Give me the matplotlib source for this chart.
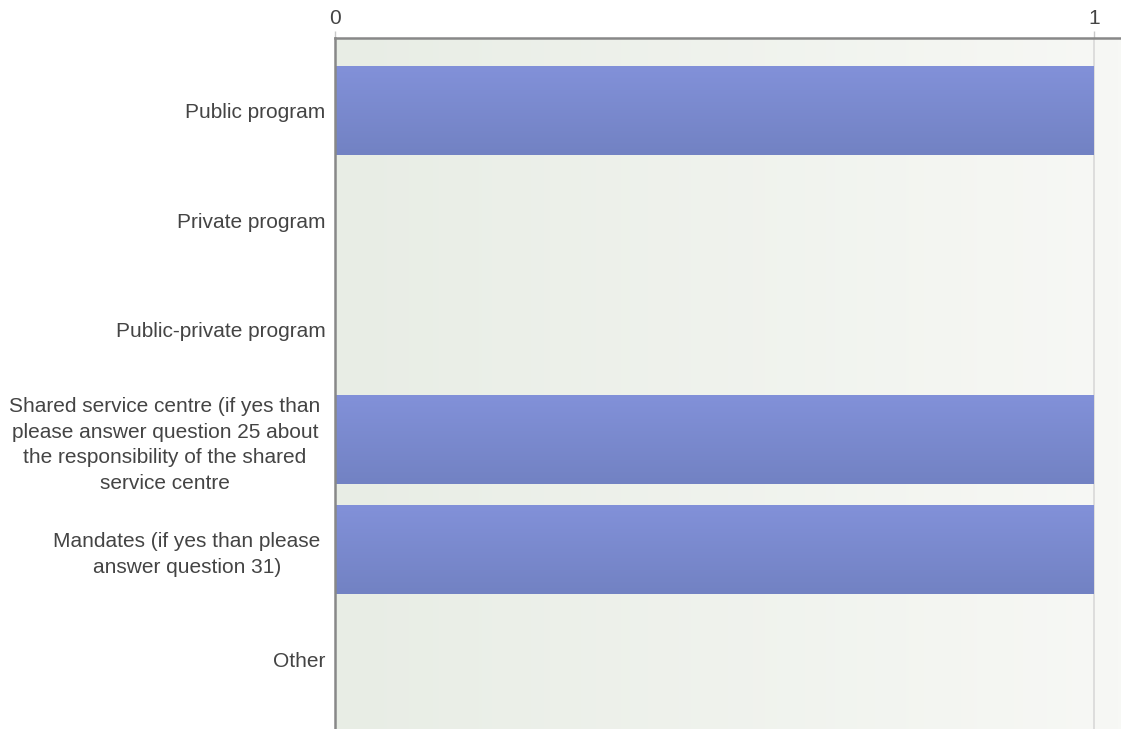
import numpy as np
import matplotlib
matplotlib.use("Agg")
import matplotlib.pyplot as plt
from matplotlib.colors import LinearSegmentedColormap

categories = [
    "Public program",
    "Private program",
    "Public-private program",
    "Shared service centre (if yes than\nplease answer question 25 about\nthe responsibility of the shared\nservice centre",
    "Mandates (if yes than please\nanswer question 31)",
    "Other",
]
values = [1, 0, 0, 1, 1, 0]
xticks = [0, 1]
xtick_labels = ["0", "1"]

plt.rcParams['font.family'] = ['Liberation Sans', 'DejaVu Sans']

W, H = 1121, 729
fig = plt.figure(figsize=(W / 100, H / 100), dpi=100)
ax = fig.add_axes([335 / W, 0, 1 - 335 / W, 1 - 38 / H])

xmax = 786 / 759
n = len(categories)
ytop, ybot = -0.661, 5.638
ax.set_xlim(0, xmax)
ax.set_ylim(ybot, ytop)

# background gradient
bg = LinearSegmentedColormap.from_list("bg", ["#e8ede5", "#f7f8f5"])
grad = np.linspace(0, 1, 256).reshape(1, -1)
ax.imshow(grad, cmap=bg, aspect='auto', extent=[0, xmax, ybot, ytop], zorder=0)

# gridline
for t in xticks[1:]:
    ax.axvline(t, color="#d8d8d8", lw=1.2, zorder=1)

# bars with vertical gradient
barcmap = LinearSegmentedColormap.from_list("bar", ["#8291d9", "#7282c3"])
vgrad = np.linspace(0, 1, 256).reshape(-1, 1)
h = 0.81
bars = ax.barh(range(n), values, height=h, color="none", zorder=2)
for b, v in zip(bars, values):
    if v > 0:
        y0 = b.get_y()
        ax.imshow(vgrad, cmap=barcmap, aspect='auto',
                  extent=[0, v, y0 + h, y0], zorder=2)
ax.set_xlim(0, xmax)
ax.set_ylim(ybot, ytop)

ax.xaxis.tick_top()
ax.set_xticks(xticks)
ax.set_xticklabels(xtick_labels, fontsize=15, color="#444444")
ax.tick_params(axis='x', length=5, color="#c8c8c8", pad=2, width=1)
ax.set_yticks(range(n))
ax.set_yticklabels(categories, fontsize=15, color="#444444",
                   multialignment='center', linespacing=1.45)
ax.tick_params(axis='y', length=0, pad=7)
for lbl in ax.get_yticklabels():
    if "\n" in lbl.get_text():
        lbl.set_x(-0.006)

for s in ["right", "bottom"]:
    ax.spines[s].set_visible(False)
ax.spines["left"].set_color("#888888")
ax.spines["left"].set_linewidth(1.8)
ax.spines["top"].set_color("#888888")
ax.spines["top"].set_linewidth(1.8)

fig.savefig("out.png", dpi=100)
